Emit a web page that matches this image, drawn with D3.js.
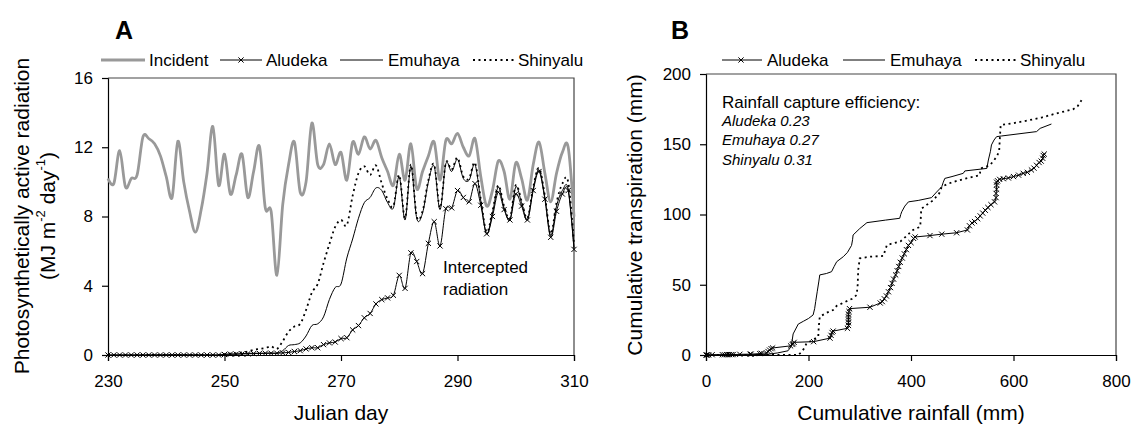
<!DOCTYPE html>
<html><head><meta charset="utf-8">
<script src="https://cdn.jsdelivr.net/npm/d3@7"></script>
<style>
body{margin:0;background:#fff;}
text{font-family:"Liberation Sans",Arial,sans-serif;fill:#000;}
</style>
</head><body><svg id="c" width="1133" height="426"></svg>
<script>
// ---------- Panel A data (Julian day 230..310) ----------
const days = [230,231,232,233,234,235,236,237,238,239,240,241,242,243,244,245,246,247,248,249,
  250,251,252,253,254,255,256,257,258,259,260,261,262,263,264,265,266,267,268,269,
  270,271,272,273,274,275,276,277,278,279,280,281,282,283,284,285,286,287,288,289,
  290,291,292,293,294,295,296,297,298,299,300,301,302,303,304,305,306,307,308,309,310];
const incident = [10.2,9.9,11.8,9.7,10.2,10.4,12.6,12.5,12.2,11.5,10.3,9.1,12.35,10.0,8.3,7.1,8.4,10.5,13.2,9.8,
  11.6,9.3,10.4,11.6,9.1,10.6,12.05,8.5,8.3,4.6,8.7,11.0,12.3,9.4,10.0,13.4,11.0,11.0,12.2,11.0,
  11.7,10.1,12.3,11.6,12.6,11.9,12.4,11.4,10.6,9.8,11.6,10.1,12.2,9.6,10.6,11.5,12.3,10.1,12.4,12.2,
  12.8,12.0,11.5,12.5,10.3,8.6,9.5,11.2,10.6,9.0,11.1,10.2,8.95,11.0,12.3,10.5,8.85,10.5,11.7,12.0,8.0];
const aludekaA = [0,0,0,0,0,0,0,0,0,0,0,0,0,0,0,0,0,0,0,0,
  0.03,0.05,0.05,0.06,0.07,0.08,0.09,0.1,0.1,0.1,0.12,0.15,0.2,0.25,0.35,0.42,0.42,0.6,0.7,0.75,
  0.95,1.0,1.45,1.7,2.15,2.4,2.95,3.2,3.3,3.45,4.6,3.85,5.9,5.4,4.7,6.45,7.7,6.3,8.45,8.5,
  9.5,9.1,8.85,9.9,8.65,7.0,8.0,9.4,8.4,7.8,9.3,8.6,7.8,9.5,10.6,9.0,6.8,8.3,9.3,9.5,6.1];
const emuhayaA = [0,0,0,0,0,0,0,0,0,0,0,0,0,0,0,0,0,0,0,0,
  0.05,0.05,0.05,0.08,0.1,0.1,0.1,0.1,0.12,0.1,0.25,0.55,0.6,0.7,1.1,1.7,1.8,2.2,3.2,3.9,
  4.1,5.6,6.7,7.9,8.8,9.1,9.65,9.5,8.8,8.5,10.3,7.8,10.9,7.9,8.2,10.0,10.9,8.4,11.05,10.6,
  11.3,10.2,10.1,11.0,8.9,7.0,8.2,9.7,8.5,7.8,9.7,8.8,7.8,9.6,10.7,9.1,6.9,8.6,9.5,9.6,6.2];
const shinyaluA = [0,0,0,0,0,0,0,0,0,0,0,0,0,0,0,0,0,0,0,0,
  0.05,0.08,0.1,0.15,0.2,0.3,0.35,0.4,0.5,0.35,0.8,1.35,1.65,1.8,2.6,3.6,4.1,5.3,6.4,7.4,
  7.8,7.5,9.2,10.5,10.9,10.4,10.95,9.9,9.0,8.6,10.4,7.9,11.0,8.0,8.3,10.1,11.0,8.5,11.1,10.7,
  11.4,10.3,10.2,11.1,9.0,7.1,8.3,9.8,8.6,7.9,9.8,8.9,7.9,9.7,10.8,9.2,7.0,8.8,9.9,10.0,6.4];
const dayTicks = [230,250,270,290,310];
const parTicks = [0,4,8,12,16];

// ---------- Panel B data: [cumulative rainfall mm, cumulative transpiration mm] ----------
const aludekaB = [[0,0],[2,0],[5,0],[12,0.2],[32,0.2],[36,0.2],[40,0.3],[43,0.3],[46,0.3],[50,0.3],[53,0.3],
  [66,0.5],[86,0.6],[88,0.6],[105,1],[108,1.2],[118,1.5],[121,2.5],[124,3.5],[127,4.5],[130,5],
  [165,6.5],[168,7.5],[170,8],[172,9],[210,9.5],[242,12],[244,14],[246,16],[248,17],[276,19],
  [278,21],[278,23],[278,25],[278,27],[278,29],[279,31],[280,33],[320,34],[340,37],[344,38],
  [348,40],[352,42],[356,45],[360,48],[363,51],[366,54],[370,57],[373,60],[376,63],[379,66],
  [383,69],[387,72],[391,75],[395,78],[400,80],[405,83],[408,84],[437,85],[460,86],[489,87],
  [510,89],[514,92],[519,94],[524,95],[530,97],[535,99],[540,101],[545,103],[550,105],[556,107],
  [563,109],[566,112],[566,115],[567,118],[567,121],[567,123],[569,124],[573,125],[580,125.5],
  [590,126],[600,127],[610,128],[619,129.3],[627,130],[635,131.7],[640,133],[645,135],[650,137],
  [654,138],[657,140],[658,142],[660,143]];
const emuhayaB = [[0,0],[60,0],[120,0.5],[140,1.5],[160,3],[166,6],[168,10],[170,15],[180,22],[190,24],
  [200,26],[209,28.5],[212,33],[214,38],[217,45],[220,52],[222,57],[235,58],[245,59.3],[250,63],
  [255,66.4],[268,70],[276,73],[284,78],[286,82],[287,85.4],[300,90],[314,94.2],[350,96],[378,97.3],
  [380,100],[382,102],[388,106],[395,109],[414,110],[440,112],[450,116],[460,119.8],[463,123],
  [466,125.7],[480,127],[502,129.3],[505,131],[548,132.8],[551,138.8],[555,145],[557,149.5],
  [562,153],[567,155.4],[577,155.9],[645,159],[652,161.3],[674,164.4]];
const shinyaluB = [[0,0],[150,0],[180,0],[186,2],[192,5],[196,8.3],[205,10],[219,13],[220,20],[222,27.3],
  [235,30],[248,32],[255,35],[268,37.2],[285,40],[294,42.7],[296,50],[297,60.5],[300,68.8],[320,70],
  [346,70.5],[350,75],[353,78.3],[380,81],[404,89],[418,91.3],[419,97],[420,104],[435,108],[443,110],
  [455,115],[460,119.8],[473,122],[490,124],[508,125.7],[534,128],[536,132.8],[554,135],[567,141],
  [572,145],[573,151.8],[574,158],[575,163.7],[600,165],[626,166.8],[655,169],[684,172],[716,174.8],
  [725,177],[733,181.5]];
const rainTicks = [0,200,400,600,800];
const transpTicks = [0,50,100,150,200];
const effLabels = ["Aludeka 0.23","Emuhaya 0.27","Shinyalu 0.31"];

// ---------- drawing ----------
const svg = d3.select("#c");
const FONT = '"Liberation Sans",Arial,sans-serif';
const DOT = "2,3.5";

function xMark(g, x, y, s){
  g.append("path").attr("d",`M${x-s},${y-s}L${x+s},${y+s}M${x-s},${y+s}L${x+s},${y-s}`)
   .attr("stroke","#000").attr("stroke-width",1).attr("fill","none");
}

function frame(x0,x1,y0,y1,xs,ys,xt,yt,padY){
  const gx = svg.append("g").attr("transform",`translate(0,${y0})`)
    .call(d3.axisBottom(xs).tickValues(xt).tickSize(6).tickPadding(14).tickFormat(d3.format("d")));
  const gy = svg.append("g").attr("transform",`translate(${x0},0)`)
    .call(d3.axisLeft(ys).tickValues(yt).tickSize(6).tickPadding(padY).tickFormat(d3.format("d")));
  [gx,gy].forEach(g=>{
    g.selectAll("text").attr("font-size",17).attr("font-family",FONT).attr("fill","#000");
    g.selectAll("line,path").attr("stroke","#000").attr("stroke-width",1.2);
  });
  svg.append("path").attr("d",`M${x0},${y1}H${x1}V${y0}`).attr("fill","none")
    .attr("stroke","#444").attr("stroke-width",1.2);
}

// Panel A
const xA = d3.scaleLinear([230,310],[108,574]);
const yA = d3.scaleLinear([0,16],[355,78]);
frame(108,574,355,78,xA,yA,dayTicks,parTicks,9);
const lineA = vals => d3.line().x((d,i)=>xA(days[i])).y(d=>yA(d)).curve(d3.curveCatmullRom.alpha(0))(vals);
svg.append("path").attr("d",lineA(incident)).attr("fill","none").attr("stroke","#999").attr("stroke-width",2.8);
svg.append("path").attr("d",lineA(emuhayaA)).attr("fill","none").attr("stroke","#000").attr("stroke-width",1);
svg.append("path").attr("d",lineA(shinyaluA)).attr("fill","none").attr("stroke","#000").attr("stroke-width",1.8).attr("stroke-dasharray",DOT);
svg.append("path").attr("d",lineA(aludekaA)).attr("fill","none").attr("stroke","#000").attr("stroke-width",1);
const gmA = svg.append("g");
aludekaA.forEach((v,i)=>xMark(gmA,xA(days[i]),yA(v),2.6));

svg.append("text").attr("x",443).attr("y",273).attr("font-size",17).text("Intercepted");
svg.append("text").attr("x",443).attr("y",295).attr("font-size",17).text("radiation");

// y title A
const ytA = svg.append("g").attr("transform","translate(21,216) rotate(-90)");
ytA.append("text").attr("text-anchor","middle").attr("dominant-baseline","central").attr("font-size",21)
  .text("Photosynthetically active radiation");
const l2 = ytA.append("text").attr("text-anchor","middle").attr("y",26).attr("dominant-baseline","central").attr("font-size",21);
l2.append("tspan").text("(MJ m");
l2.append("tspan").attr("font-size",13).attr("dy",-7).text("-2");
l2.append("tspan").attr("dy",7).text(" day");
l2.append("tspan").attr("font-size",13).attr("dy",-7).text("-1");
l2.append("tspan").attr("dy",7).text(")");
svg.append("text").attr("x",341).attr("y",420).attr("text-anchor","middle").attr("font-size",21).text("Julian day");
svg.append("text").attr("x",115).attr("y",39).attr("font-size",25).attr("font-weight","bold").text("A");

// Legend A
const LY = 60;
svg.append("line").attr("x1",101).attr("x2",145).attr("y1",LY).attr("y2",LY).attr("stroke","#999").attr("stroke-width",2.8);
svg.append("text").attr("x",149).attr("y",LY).attr("dominant-baseline","central").attr("font-size",17).text("Incident");
svg.append("line").attr("x1",220).attr("x2",262).attr("y1",LY).attr("y2",LY).attr("stroke","#000").attr("stroke-width",1);
xMark(svg,241,LY,2.6);
svg.append("text").attr("x",266).attr("y",LY).attr("dominant-baseline","central").attr("font-size",17).text("Aludeka");
svg.append("line").attr("x1",340).attr("x2",383).attr("y1",LY).attr("y2",LY).attr("stroke","#000").attr("stroke-width",1);
svg.append("text").attr("x",388).attr("y",LY).attr("dominant-baseline","central").attr("font-size",17).text("Emuhaya");
svg.append("line").attr("x1",473).attr("x2",515).attr("y1",LY).attr("y2",LY).attr("stroke","#000").attr("stroke-width",1.8).attr("stroke-dasharray",DOT);
svg.append("text").attr("x",518).attr("y",LY).attr("dominant-baseline","central").attr("font-size",17).text("Shinyalu");

// Panel B
const xB = d3.scaleLinear([0,800],[706,1116]);
const yB = d3.scaleLinear([0,200],[355,74]);
frame(706,1116,355,74,xB,yB,rainTicks,transpTicks,9);
const lineB = d3.line().x(d=>xB(d[0])).y(d=>yB(d[1]));
svg.append("path").attr("d",lineB(emuhayaB)).attr("fill","none").attr("stroke","#000").attr("stroke-width",1);
svg.append("path").attr("d",lineB(shinyaluB)).attr("fill","none").attr("stroke","#000").attr("stroke-width",1.8).attr("stroke-dasharray",DOT);
svg.append("path").attr("d",lineB(aludekaB)).attr("fill","none").attr("stroke","#000").attr("stroke-width",1);
const gmB = svg.append("g");
aludekaB.forEach(d=>xMark(gmB,xB(d[0]),yB(d[1]),2.6));

svg.append("text").attr("x",722).attr("y",108).attr("font-size",17).text("Rainfall capture efficiency:");
effLabels.forEach((t,i)=>svg.append("text").attr("x",722).attr("y",126+i*19.3).attr("font-size",15).attr("font-style","italic").text(t));

svg.append("text").attr("transform","translate(634,215) rotate(-90)").attr("text-anchor","middle")
  .attr("dominant-baseline","central").attr("font-size",21).text("Cumulative transpiration (mm)");
svg.append("text").attr("x",911).attr("y",420).attr("text-anchor","middle").attr("font-size",21).text("Cumulative rainfall (mm)");
svg.append("text").attr("x",671).attr("y",39).attr("font-size",25).attr("font-weight","bold").text("B");

// Legend B
svg.append("line").attr("x1",722).attr("x2",762).attr("y1",LY).attr("y2",LY).attr("stroke","#000").attr("stroke-width",1);
xMark(svg,741,LY,2.6);
svg.append("text").attr("x",767).attr("y",LY).attr("dominant-baseline","central").attr("font-size",17).text("Aludeka");
svg.append("line").attr("x1",843).attr("x2",885).attr("y1",LY).attr("y2",LY).attr("stroke","#000").attr("stroke-width",1);
svg.append("text").attr("x",890).attr("y",LY).attr("dominant-baseline","central").attr("font-size",17).text("Emuhaya");
svg.append("line").attr("x1",975).attr("x2",1017).attr("y1",LY).attr("y2",LY).attr("stroke","#000").attr("stroke-width",1.8).attr("stroke-dasharray",DOT);
svg.append("text").attr("x",1020).attr("y",LY).attr("dominant-baseline","central").attr("font-size",17).text("Shinyalu");
</script>
</body></html>
